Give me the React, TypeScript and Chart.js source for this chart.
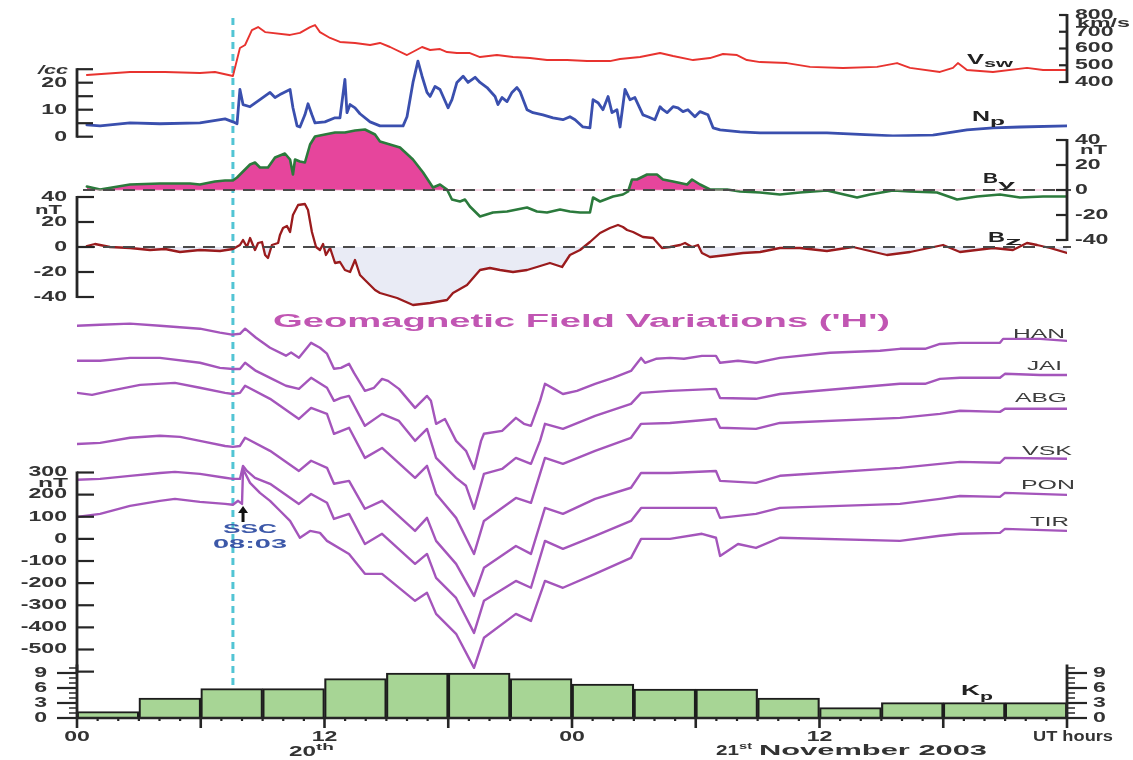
import React, { useEffect, useRef } from 'react';
import { Chart, registerables } from 'chart.js';

Chart.register(...registerables);

// ================= DATA (time = hours after 00 UT, 20 November 2003) =================
const VSW_T = [0.48, 2.57, 4.27, 5.96, 6.69, 7.56, 7.9, 8.15, 8.48, 8.78, 9.12, 10.33, 10.81, 11.3, 11.54, 11.78, 12.27, 12.75, 13.48, 14.21, 14.69, 15.18, 16.0, 16.73, 17.12, 17.6, 17.94, 18.42, 19.05, 19.54, 20.36, 21.14, 21.96, 22.79, 23.76, 24.73, 25.84, 26.33, 27.3, 28.27, 28.9, 29.87, 30.69, 31.32, 32.0, 32.48, 33.12, 34.42, 35.54, 37.14, 38.79, 39.76, 40.39, 41.84, 42.47, 42.71, 43.15, 44.41, 46.06, 46.84, 48];
const VSW = [442, 460, 460, 454, 460, 436, 603, 621, 710, 728, 698, 681, 693, 728, 740, 698, 663, 639, 633, 621, 633, 609, 561, 609, 591, 597, 579, 573, 573, 549, 561, 549, 543, 531, 531, 525, 525, 537, 549, 573, 555, 531, 543, 567, 561, 531, 519, 513, 490, 484, 490, 513, 484, 460, 484, 513, 472, 460, 484, 472, 472];

const NP_T = [0.48, 1.12, 2.57, 4.02, 5.96, 7.18, 7.56, 7.76, 7.9, 8.05, 8.39, 8.87, 9.36, 9.6, 9.84, 10.33, 10.47, 10.67, 10.81, 11.05, 11.2, 11.39, 11.54, 12.02, 12.51, 12.75, 12.99, 13.09, 13.24, 13.48, 13.72, 14.21, 14.69, 15.81, 16.0, 16.29, 16.53, 16.73, 16.97, 17.12, 17.36, 17.6, 17.75, 17.99, 18.18, 18.42, 18.72, 18.96, 19.3, 19.54, 19.88, 20.27, 20.41, 20.61, 20.85, 21.09, 21.33, 21.48, 21.82, 22.11, 22.59, 23.08, 23.56, 23.9, 24.15, 24.53, 24.87, 25.02, 25.26, 25.5, 25.75, 25.94, 26.18, 26.33, 26.57, 26.81, 27.05, 27.44, 27.68, 28.02, 28.27, 28.41, 28.61, 28.9, 29.14, 29.38, 29.62, 29.96, 30.21, 30.59, 30.84, 31.18, 32.15, 33.12, 36.36, 39.56, 41.5, 43.15, 44.41, 45.72, 48];
const NP = [4.4, 4.0, 5.1, 4.8, 5.1, 6.6, 5.5, 4.8, 17.5, 11.9, 11.1, 13.7, 16.4, 14.5, 15.6, 17.5, 10.7, 4.0, 3.6, 8.1, 12.2, 8.1, 5.1, 5.5, 7.0, 7.0, 21.2, 8.9, 11.9, 10.7, 8.5, 5.5, 4.0, 4.0, 7.4, 20.1, 28.0, 22.4, 16.4, 14.9, 18.6, 17.5, 14.9, 10.7, 13.7, 20.1, 22.4, 20.1, 22.0, 20.1, 18.2, 14.9, 11.9, 14.5, 13.0, 16.4, 18.2, 16.7, 10.0, 8.9, 8.1, 7.0, 6.3, 7.4, 6.3, 3.6, 3.3, 13.7, 12.6, 10.0, 14.9, 8.9, 10.0, 3.6, 17.5, 13.7, 14.5, 8.1, 7.4, 6.3, 11.1, 10.0, 8.9, 11.1, 10.7, 9.3, 10.0, 7.4, 9.3, 8.1, 3.3, 2.5, 1.8, 1.4, 1.4, 0.3, 0.6, 2.5, 3.3, 3.6, 4.0];

const BY_T = [0.48, 1.12, 2.57, 4.02, 5.48, 5.96, 6.69, 7.18, 7.56, 7.76, 8.05, 8.39, 8.63, 8.87, 9.26, 9.6, 10.08, 10.33, 10.47, 10.57, 10.81, 11.05, 11.3, 11.54, 12.02, 12.51, 12.99, 13.48, 13.96, 14.45, 14.69, 15.66, 16.29, 16.78, 17.26, 17.6, 17.94, 18.18, 18.57, 18.81, 19.05, 19.54, 20.17, 20.85, 21.33, 21.82, 22.3, 22.79, 23.42, 23.9, 24.39, 24.87, 25.02, 25.36, 25.99, 26.47, 26.72, 26.91, 27.15, 27.64, 28.12, 28.41, 28.9, 29.58, 29.82, 30.21, 30.69, 31.52, 32.15, 33.12, 34.08, 35.05, 36.36, 37.82, 38.45, 39.56, 40.39, 41.7, 42.67, 43.64, 44.75, 45.72, 46.84, 48];
const BY = [2.8, 0.4, 4.4, 5.2, 5.2, 4.4, 6.8, 7.6, 7.6, 10, 14.8, 20.4, 22, 18, 18, 26, 29.2, 24.4, 12.4, 24.4, 22.8, 22, 36.4, 42.8, 44.4, 46, 46, 47.6, 48.4, 44.4, 38.8, 34, 24.4, 14, 2, 4.4, 0.4, -7.6, -9.2, -7.6, -13.2, -21.2, -18, -17.2, -15.6, -14, -17.2, -18, -15.6, -17.2, -18, -18, -6, -9.2, -5.2, -3.6, -1.2, 8.4, 8.4, 12.4, 12.4, 8.4, 6.8, 4.4, 8.4, 4.4, 0.4, 0.4, -1.2, -2, -3.6, -2, -0.4, -6, -3.6, -0.4, -1.2, -2, -7.6, -5.2, -3.6, -6, -5.2, -5.2];

const BZ_T = [0.48, 0.87, 1.6, 2.57, 3.54, 4.27, 4.99, 5.96, 6.93, 7.56, 7.9, 8.05, 8.24, 8.39, 8.63, 8.78, 8.97, 9.12, 9.26, 9.45, 9.75, 9.84, 9.99, 10.18, 10.33, 10.47, 10.72, 11.05, 11.2, 11.39, 11.59, 11.78, 11.93, 12.07, 12.27, 12.51, 12.75, 12.99, 13.24, 13.48, 13.72, 13.96, 14.45, 14.69, 15.52, 16.29, 17.12, 17.94, 18.23, 18.91, 19.54, 20.02, 20.51, 21.14, 21.82, 22.3, 22.93, 23.52, 23.9, 24.39, 24.87, 25.36, 25.84, 26.23, 26.47, 26.67, 26.96, 27.44, 27.93, 28.36, 28.75, 29.24, 29.48, 29.82, 30.11, 30.3, 30.69, 31.52, 32.29, 33.12, 34.08, 35.05, 36.36, 37.62, 39.27, 40.39, 41.99, 42.81, 44.41, 45.38, 46.06, 46.55, 47.18, 48];
const BZ = [0.8, 2.4, 0, -0.8, -2.4, -1.6, -4, -2.4, -3.2, -1.6, 1.6, 5.6, 0, 7.2, -2.4, 3.2, 4, -6.4, -8.8, 1.6, 3.2, 9.6, 15.2, 16.8, 12, 25.6, 33.6, 34.4, 29.6, 12, 0, -2.4, 2.4, -6.4, -0.8, -12.8, -12, -18.4, -20, -10.4, -22.4, -26.4, -34.4, -36.8, -40.8, -46.4, -44.8, -42.4, -36.8, -30.4, -18.4, -16.8, -18.4, -20, -18.4, -16, -12.8, -16, -6.4, -2.4, 4, 11.2, 15.2, 17.6, 16, 13.6, 12, 8, 7.2, -0.8, 0, 1.6, 3.2, 0, 1.6, -4.8, -8, -6.4, -4.8, -4, -0.8, -0.8, -3.2, 0, -6.4, -4, 1.6, -4, -0.8, -2.4, 3.2, 1.6, -0.8, -4.8];

const HAN_T = [0, 1.12, 2.57, 4.02, 5.96, 6.93, 7.52, 7.9, 8.15, 8.68, 9.36, 10.13, 10.38, 10.76, 11.35, 11.78, 12.12, 12.46, 12.8, 13.19, 13.43, 13.96, 14.4, 14.79, 15.08, 15.61, 16.39, 16.97, 17.16, 17.41, 17.84, 18.38, 18.86, 19.25, 19.59, 19.73, 20.61, 21.28, 21.67, 22.01, 22.45, 22.69, 23.13, 23.56, 24.24, 25.12, 25.99, 26.86, 27.35, 27.54, 28.07, 28.75, 29.43, 30.3, 30.98, 31.18, 32.05, 32.92, 34.08, 36.51, 38.93, 39.9, 41.12, 41.84, 42.81, 44.75, 44.9, 46.69, 48];
const HAN = [963, 968, 973, 963, 950, 932, 923, 927, 950, 909, 864, 828, 842, 819, 886, 864, 837, 769, 773, 791, 750, 669, 683, 723, 714, 678, 592, 646, 624, 520, 542, 443, 398, 316, 443, 475, 488, 547, 520, 511, 624, 701, 678, 655, 669, 701, 728, 759, 818, 796, 814, 818, 814, 827, 827, 796, 805, 796, 818, 841, 850, 859, 859, 881, 886, 886, 904, 904, 895];

const JAI_T = [0, 1.12, 2.57, 4.02, 5.96, 6.93, 7.56, 7.9, 8.15, 8.68, 9.36, 10.13, 10.76, 11.35, 12.12, 12.46, 12.8, 13.19, 13.96, 14.79, 15.61, 16.39, 16.97, 17.41, 18.38, 18.86, 19.25, 19.73, 20.61, 21.28, 22.01, 22.45, 22.69, 23.56, 25.12, 26.86, 27.35, 28.75, 30.98, 31.18, 32.92, 34.08, 39.9, 41.12, 41.84, 42.81, 44.75, 44.99, 46.69, 48];
const JAI = [805, 805, 818, 818, 796, 773, 768, 768, 796, 759, 728, 692, 678, 728, 683, 624, 637, 646, 511, 565, 533, 443, 497, 366, 276, 240, 136, 294, 316, 366, 339, 443, 520, 497, 556, 610, 660, 669, 678, 637, 633, 655, 701, 701, 723, 728, 728, 746, 741, 741];

const ABG_T = [0, 0.73, 1.6, 3.06, 4.75, 5.96, 7.18, 7.56, 7.9, 8.15, 9.36, 10.76, 11.35, 12.12, 12.46, 13.19, 13.96, 14.79, 16.39, 16.97, 17.41, 18.38, 19.25, 19.73, 21.28, 22.01, 22.69, 23.56, 25.12, 26.86, 27.35, 28.75, 30.98, 31.18, 32.92, 34.08, 39.9, 41.84, 42.81, 44.75, 44.99, 46.69, 48];
const ABG = [660, 651, 669, 696, 705, 683, 660, 655, 660, 692, 633, 542, 592, 565, 475, 502, 366, 411, 276, 330, 203, 95, -68, 81, 185, 163, 366, 339, 398, 457, 520, 524, 542, 502, 497, 524, 547, 565, 579, 574, 588, 588, 588];

const VSK_T = [0, 1.12, 2.57, 4.02, 5.0, 5.96, 7.18, 7.56, 7.9, 8.15, 9.36, 10.76, 11.35, 12.12, 12.46, 13.19, 13.96, 14.79, 16.39, 16.97, 17.41, 18.38, 19.25, 19.73, 21.28, 22.01, 22.69, 23.56, 25.12, 26.86, 27.35, 28.75, 30.98, 31.18, 32.92, 34.08, 39.9, 41.84, 42.81, 44.75, 44.99, 48];
const VSK = [429, 434, 457, 466, 461, 443, 420, 416, 420, 457, 398, 307, 353, 321, 249, 262, 136, 172, 36, 95, -9, -113, -258, -131, -32, -68, 140, 113, 181, 231, 298, 298, 307, 262, 253, 285, 321, 339, 348, 344, 366, 362];

const PON_T = [0, 1.12, 2.57, 4.02, 4.75, 5.96, 7.18, 7.56, 7.9, 8.05, 8.24, 8.63, 9.36, 10.76, 11.35, 12.12, 12.46, 13.19, 13.96, 14.79, 16.39, 16.97, 17.41, 18.38, 19.25, 19.73, 21.28, 22.01, 22.69, 23.56, 25.12, 26.86, 27.35, 28.75, 30.98, 31.18, 32.92, 34.08, 39.9, 41.84, 42.81, 44.75, 44.99, 48];
const PON = [267, 271, 285, 298, 303, 294, 276, 271, 271, 330, 307, 276, 249, 158, 203, 163, 90, 113, -23, 23, -113, -68, -176, -267, -425, -280, -190, -221, -9, -45, 14, 81, 140, 140, 140, 95, 113, 140, 158, 181, 194, 190, 208, 199];

const TIR_T = [0, 1.12, 2.57, 4.02, 4.75, 5.96, 7.18, 7.56, 7.81, 8.0, 8.05, 8.39, 8.87, 9.36, 9.84, 10.33, 10.81, 11.3, 11.78, 12.12, 13.19, 13.96, 14.79, 16.39, 16.97, 17.41, 18.38, 19.25, 19.73, 21.28, 22.01, 22.69, 23.56, 25.12, 26.86, 27.35, 28.75, 30.3, 30.98, 31.18, 32.05, 32.92, 34.08, 39.9, 41.84, 42.81, 44.75, 44.99, 48];
const TIR = [99, 113, 149, 172, 181, 167, 158, 154, 172, 158, 316, 253, 208, 172, 127, 81, 5, 36, 27, -9, -68, -158, -158, -280, -244, -339, -429, -583, -447, -339, -371, -190, -221, -158, -86, 0, 0, 23, 5, -77, -23, -41, 5, -9, 14, 23, 27, 45, 36];

const KP_T = [1.5, 4.5, 7.5, 10.5, 13.5, 16.5, 19.5, 22.5, 25.5, 28.5, 31.5, 34.5, 37.5, 40.5, 43.5, 46.5];
const KP = [1.3, 4, 5.9, 5.9, 7.9, 9, 9, 7.9, 6.8, 5.8, 5.8, 4, 2.1, 3.1, 3.1, 3.1];

const SSC_HOUR = 7.56;
const STATIONS = ['HAN', 'JAI', 'ABG', 'VSK', 'PON', 'TIR'];

// tick values / labels
const X_TICKS = [0, 12, 24, 36];
const X_TICK_LABELS = ['00', '12', '00', '12'];
const VSW_TICKS = [400, 500, 600, 700, 800];
const NP_TICKS = [0, 5, 10, 15, 20, 25];
const NP_LABELED = [0, 10, 20];
const B_TICKS = [-40, -20, 0, 20, 40];
const H_TICKS = [-600, -500, -400, -300, -200, -100, 0, 100, 200, 300];
const H_LABELED = [-500, -400, -300, -200, -100, 0, 100, 200, 300];
const KP_TICKS = [0, 3, 6, 9];
const KP_MINOR = [1, 2, 4, 5, 7, 8, 10];

// ================= LAYOUT / STYLE =================
const W = 1133;
const HGT = 760;
const XL = 77;
const XR = 1067;
const AXIS = '#262626';
const TXT = '#333333';
const TICK_FONT = 'bold 14px "Liberation Sans", Arial, sans-serif';
const SX = 1.65;
const H_COLOR = '#a455bb';

const pts = (t: number[], v: number[]) => t.map((x, i) => ({ x, y: v[i] }));

function pad(vA: number, pA: number, vB: number, pB: number, lo: number, hi: number) {
  const k = (pB - pA) / (vB - vA);
  return { left: XL, right: W - XR, top: pA + (hi - vA) * k, bottom: HGT - (pA + (lo - vA) * k) };
}

function baseOptions(p: any, lo: number, hi: number): any {
  return {
    responsive: false,
    animation: false,
    events: [],
    layout: { padding: p },
    plugins: { legend: { display: false }, tooltip: { enabled: false }, title: { display: false } },
    scales: {
      x: { type: 'linear', min: 0, max: 48, display: false, offset: false, grid: { offset: false } },
      y: { type: 'linear', min: lo, max: hi, display: false },
    },
  };
}

function line(t: number[], v: number[], color: string, width: number, extra: any = {}) {
  return {
    data: pts(t, v),
    borderColor: color,
    borderWidth: width,
    pointRadius: 0,
    tension: 0,
    fill: false,
    borderJoinStyle: 'round',
    borderCapStyle: 'round',
    ...extra,
  };
}

function sText(ctx: CanvasRenderingContext2D, text: string, x: number, y: number, font: string, color: string, align: string, sx: number) {
  ctx.save();
  ctx.font = font;
  const w = ctx.measureText(text).width * sx;
  const left = align === 'left' ? x : align === 'right' ? x - w : x - w / 2;
  ctx.fillStyle = color;
  ctx.textBaseline = 'middle';
  ctx.textAlign = 'left';
  ctx.translate(left, y);
  ctx.scale(sx, 1);
  ctx.fillText(text, 0, 0);
  ctx.restore();
}

function boxText(ctx: CanvasRenderingContext2D, text: string, x0: number, x1: number, cy: number, font: string, color: string) {
  ctx.save();
  ctx.font = font;
  const m = ctx.measureText(text).width;
  ctx.fillStyle = color;
  ctx.textBaseline = 'middle';
  ctx.textAlign = 'left';
  ctx.translate(x0, cy);
  ctx.scale((x1 - x0) / m, 1);
  ctx.fillText(text, 0, 0);
  ctx.restore();
}

function yAxis(chart: any, o: any) {
  const ctx = chart.ctx as CanvasRenderingContext2D;
  const a = chart.chartArea;
  const s = chart.scales.y;
  const x = o.side === 'left' ? a.left : a.right;
  const dir = (o.side === 'left') === o.inward ? 1 : -1;
  ctx.save();
  ctx.strokeStyle = AXIS;
  ctx.lineWidth = 2.8;
  ctx.beginPath();
  ctx.moveTo(x, s.getPixelForValue(o.from) + 1);
  ctx.lineTo(x, s.getPixelForValue(o.to) - 1);
  ctx.stroke();
  ctx.lineWidth = 2.2;
  for (const v of o.major) {
    const y = s.getPixelForValue(v);
    ctx.beginPath();
    ctx.moveTo(x, y);
    ctx.lineTo(x + dir * o.len, y);
    ctx.stroke();
  }
  if (o.minor) {
    ctx.lineWidth = 1.5;
    for (const v of o.minor) {
      const y = s.getPixelForValue(v);
      ctx.beginPath();
      ctx.moveTo(x, y);
      ctx.lineTo(x + dir * o.minorLen, y);
      ctx.stroke();
    }
  }
  ctx.restore();
  for (const l of o.labels) {
    const y = s.getPixelForValue(l.v);
    if (o.side === 'left') sText(ctx, l.t, x - o.gap, y, TICK_FONT, TXT, 'right', SX);
    else sText(ctx, l.t, x + o.gap, y, TICK_FONT, TXT, 'left', SX);
  }
}

function zeroLine(chart: any, y0: number, tint: string | null) {
  const ctx = chart.ctx as CanvasRenderingContext2D;
  const y = chart.scales.y.getPixelForValue(y0);
  ctx.save();
  if (tint) {
    ctx.strokeStyle = tint;
    ctx.lineWidth = 1;
    ctx.beginPath();
    ctx.moveTo(XL + 6, y);
    ctx.lineTo(XR, y);
    ctx.stroke();
  }
  ctx.strokeStyle = '#4a4a4a';
  ctx.lineWidth = 2;
  ctx.setLineDash([12, 8]);
  ctx.beginPath();
  ctx.moveTo(XL + 6, y);
  ctx.lineTo(XR + 4, y);
  ctx.stroke();
  ctx.restore();
}

function subLabel(ctx: CanvasRenderingContext2D, main: string, sub: string, m0: number, m1: number, my: number, s1: number, sy: number) {
  boxText(ctx, main, m0, m1, my, 'bold 14px "Liberation Sans", Arial, sans-serif', '#222');
  boxText(ctx, sub, m1, s1, sy, 'bold 11px "Liberation Sans", Arial, sans-serif', '#222');
}

function labelsOf(vals: number[]) {
  return vals.map((v) => ({ v, t: String(v) }));
}

// ================= CHART CONFIGS =================
function cfgVsw(): any {
  const o = baseOptions(pad(400, 82, 800, 15, 400, 800), 400, 800);
  return {
    type: 'line',
    data: { datasets: [line(VSW_T, VSW, '#e8332f', 1.9)] },
    options: o,
    plugins: [
      {
        id: 'vswDeco',
        beforeDatasetsDraw(chart: any) {
          const ctx = chart.ctx as CanvasRenderingContext2D;
          const x = chart.scales.x.getPixelForValue(SSC_HOUR);
          ctx.save();
          ctx.strokeStyle = '#52c4d4';
          ctx.lineWidth = 3;
          ctx.setLineDash([7, 5]);
          ctx.beginPath();
          ctx.moveTo(x, 18);
          ctx.lineTo(x, 686);
          ctx.stroke();
          ctx.restore();
        },
        afterDraw(chart: any) {
          yAxis(chart, { side: 'right', inward: true, from: 400, to: 800, major: VSW_TICKS, len: 8, labels: labelsOf(VSW_TICKS), gap: 8 });
          boxText(chart.ctx, 'km/s', 1077, 1130, 24, 'bold 12px "Liberation Sans", Arial, sans-serif', TXT);
          subLabel(chart.ctx, 'V', 'sw', 967, 984, 60, 1013, 64);
        },
      },
    ],
  };
}

function cfgNp(): any {
  const o = baseOptions(pad(0, 136.7, 20, 82.7, 0, 30), 0, 30);
  return {
    type: 'line',
    data: { datasets: [line(NP_T, NP, '#3a4fae', 2.8)] },
    options: o,
    plugins: [
      {
        id: 'npDeco',
        afterDraw(chart: any) {
          yAxis(chart, { side: 'left', inward: true, from: 0, to: 25, major: NP_TICKS, len: 16, labels: labelsOf(NP_LABELED), gap: 10 });
          boxText(chart.ctx, '/cc', 38, 68, 70, 'italic bold 13px "Liberation Sans", Arial, sans-serif', TXT);
          subLabel(chart.ctx, 'N', 'p', 972, 990, 117, 1005, 122);
        },
      },
    ],
  };
}

function cfgBy(): any {
  const o = baseOptions(pad(40, 140, -40, 240, -40, 55), -40, 55);
  return {
    type: 'line',
    data: {
      datasets: [
        line(BY_T, BY, '#2b7a3c', 2.6, {
          fill: { target: { value: 0 }, above: '#e6459c', below: 'rgba(0,0,0,0)' },
          backgroundColor: '#e6459c',
        }),
      ],
    },
    options: o,
    plugins: [
      {
        id: 'byDeco',
        afterDatasetsDraw(chart: any) {
          zeroLine(chart, 0, 'rgba(240,150,190,0.7)');
        },
        afterDraw(chart: any) {
          yAxis(chart, { side: 'right', inward: true, from: -40, to: 40, major: B_TICKS, len: 11, labels: labelsOf(B_TICKS), gap: 8 });
          boxText(chart.ctx, 'nT', 1080, 1107, 150, 'bold 13px "Liberation Sans", Arial, sans-serif', TXT);
          subLabel(chart.ctx, 'B', 'y', 983, 998, 179, 1015, 185);
        },
      },
    ],
  };
}

function cfgBz(): any {
  const o = baseOptions(pad(40, 197, -40, 297, -60, 45), -60, 45);
  return {
    type: 'line',
    data: {
      datasets: [
        line(BZ_T, BZ, '#9a1b1d', 2.3, {
          fill: { target: { value: 0 }, above: 'rgba(0,0,0,0)', below: '#e9ebf5' },
          backgroundColor: '#e9ebf5',
        }),
      ],
    },
    options: o,
    plugins: [
      {
        id: 'bzDeco',
        afterDatasetsDraw(chart: any) {
          zeroLine(chart, 0, null);
        },
        afterDraw(chart: any) {
          yAxis(chart, { side: 'left', inward: true, from: -40, to: 40, major: B_TICKS, len: 17, labels: labelsOf(B_TICKS), gap: 10 });
          boxText(chart.ctx, 'nT', 35, 62, 210, 'bold 13px "Liberation Sans", Arial, sans-serif', TXT);
          subLabel(chart.ctx, 'B', 'z', 988, 1005, 238, 1022, 242);
        },
      },
    ],
  };
}

const STATION_BOX = [
  [1013, 1065, 335],
  [1027, 1062, 367],
  [1015, 1067, 399],
  [1022, 1072, 452],
  [1021, 1075, 486],
  [1030, 1069, 523],
];

function cfgH(): any {
  const o = baseOptions(pad(300, 472.5, -500, 649.5, -640, 1000), -640, 1000);
  const series = [
    [HAN_T, HAN],
    [JAI_T, JAI],
    [ABG_T, ABG],
    [VSK_T, VSK],
    [PON_T, PON],
    [TIR_T, TIR],
  ];
  return {
    type: 'line',
    data: { datasets: series.map(([t, v]) => line(t as number[], v as number[], H_COLOR, 2.4)) },
    options: o,
    plugins: [
      {
        id: 'hDeco',
        afterDraw(chart: any) {
          const ctx = chart.ctx as CanvasRenderingContext2D;
          yAxis(chart, { side: 'left', inward: true, from: -600, to: 300, major: H_TICKS, len: 17, labels: labelsOf(H_LABELED), gap: 10 });
          boxText(ctx, 'nT', 38, 68, 483, 'bold 13px "Liberation Sans", Arial, sans-serif', TXT);
          boxText(ctx, "Geomagnetic Field Variations ('H')", 273, 890, 322, 'bold 18px "Liberation Sans", Arial, sans-serif', '#c156b3');
          STATIONS.forEach((s, i) => {
            const b = STATION_BOX[i];
            boxText(ctx, s, b[0], b[1], b[2], '12px "Liberation Sans", Arial, sans-serif', '#3d3d3d');
          });
          boxText(ctx, 'SSC', 223, 277, 530, 'bold 12px "Liberation Sans", Arial, sans-serif', '#3c58a8');
          boxText(ctx, '08:03', 213, 287, 545, 'bold 12px "Liberation Sans", Arial, sans-serif', '#3c58a8');
          const ax = chart.scales.x.getPixelForValue(8.05);
          ctx.save();
          ctx.strokeStyle = '#111';
          ctx.fillStyle = '#111';
          ctx.lineWidth = 3;
          ctx.beginPath();
          ctx.moveTo(ax, 522);
          ctx.lineTo(ax, 512);
          ctx.stroke();
          ctx.beginPath();
          ctx.moveTo(ax - 5, 513);
          ctx.lineTo(ax, 506);
          ctx.lineTo(ax + 5, 513);
          ctx.closePath();
          ctx.fill();
          ctx.restore();
        },
      },
    ],
  };
}

function cfgKp(): any {
  const o = baseOptions(pad(0, 718, 9, 673, 0, 10), 0, 10);
  return {
    type: 'bar',
    data: {
      datasets: [
        {
          data: pts(KP_T, KP),
          backgroundColor: '#a7d595',
          borderColor: '#1d1d1d',
          borderWidth: 2.2,
          barPercentage: 1,
          categoryPercentage: 1,
        },
      ],
    },
    options: o,
    plugins: [
      {
        id: 'kpDeco',
        afterDraw(chart: any) {
          const ctx = chart.ctx as CanvasRenderingContext2D;
          const xs = chart.scales.x;
          const a = chart.chartArea;
          const kpLabels = labelsOf(KP_TICKS);
          yAxis(chart, { side: 'left', inward: false, from: 0, to: 10.5, major: KP_TICKS, len: 20, minor: KP_MINOR, minorLen: 8, labels: kpLabels, gap: 30 });
          yAxis(chart, { side: 'right', inward: false, from: 0, to: 10.5, major: KP_TICKS, len: 20, minor: KP_MINOR, minorLen: 8, labels: kpLabels, gap: 26 });
          // time axis
          ctx.save();
          ctx.strokeStyle = AXIS;
          ctx.lineWidth = 2.6;
          ctx.beginPath();
          ctx.moveTo(a.left, a.bottom);
          ctx.lineTo(a.right, a.bottom);
          ctx.stroke();
          for (let h = 0; h <= 48; h++) {
            const x = xs.getPixelForValue(h);
            const major = h % 6 === 0;
            ctx.lineWidth = major ? 2.6 : 2.2;
            ctx.beginPath();
            ctx.moveTo(x, a.bottom);
            ctx.lineTo(x, a.bottom + (major ? 10 : 3));
            ctx.stroke();
          }
          ctx.restore();
          X_TICKS.forEach((h, i) => {
            sText(ctx, X_TICK_LABELS[i], xs.getPixelForValue(h), 737, TICK_FONT, TXT, 'center', SX);
          });
          boxText(ctx, 'UT hours', 1033, 1113, 737, 'bold 14px "Liberation Sans", Arial, sans-serif', TXT);
          boxText(ctx, '20', 289, 316, 752, 'bold 14px "Liberation Sans", Arial, sans-serif', TXT);
          boxText(ctx, 'th', 316, 334, 748, 'bold 9px "Liberation Sans", Arial, sans-serif', TXT);
          boxText(ctx, '21', 716, 739, 751, 'bold 14px "Liberation Sans", Arial, sans-serif', TXT);
          boxText(ctx, 'st', 739, 752, 747, 'bold 9px "Liberation Sans", Arial, sans-serif', TXT);
          boxText(ctx, 'November 2003', 759, 987, 751, 'bold 14px "Liberation Sans", Arial, sans-serif', TXT);
          subLabel(ctx, 'K', 'p', 961, 980, 691, 993, 697);
        },
      },
    ],
  };
}

export default function App() {
  const r1 = useRef<HTMLCanvasElement>(null);
  const r2 = useRef<HTMLCanvasElement>(null);
  const r3 = useRef<HTMLCanvasElement>(null);
  const r4 = useRef<HTMLCanvasElement>(null);
  const r5 = useRef<HTMLCanvasElement>(null);
  const r6 = useRef<HTMLCanvasElement>(null);
  const refs = [r1, r2, r3, r4, r5, r6];

  useEffect(() => {
    document.body.style.margin = '0';
    const makers = [cfgVsw, cfgNp, cfgBy, cfgBz, cfgH, cfgKp];
    const charts = makers.map((mk, i) => new Chart(refs[i].current as HTMLCanvasElement, mk()));
    return () => charts.forEach((c) => c.destroy());
  }, []);

  return (
    <div style={{ position: 'relative', width: W, height: HGT, background: '#ffffff', overflow: 'hidden' }}>
      {refs.map((r, i) => (
        <canvas key={i} ref={r} width={W} height={HGT} style={{ position: 'absolute', left: 0, top: 0 }} />
      ))}
    </div>
  );
}
